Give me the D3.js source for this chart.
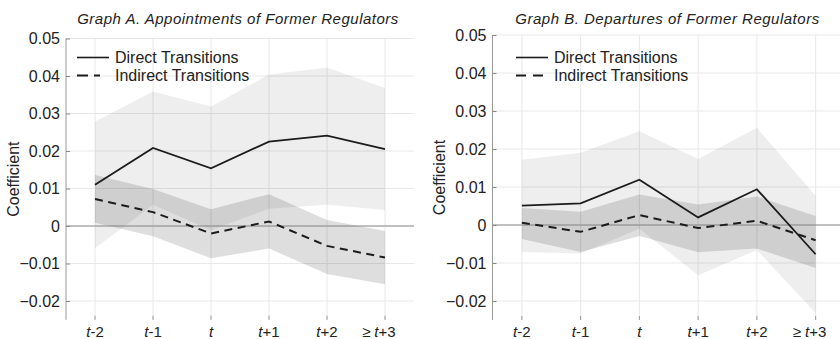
<!DOCTYPE html>
<html>
<head>
<meta charset="utf-8">
<script src="https://cdn.jsdelivr.net/npm/d3@7/dist/d3.min.js"></script>
<style>
  body { margin: 0; background: #fff; }
  svg { display: block; font-family: "Liberation Sans", Arial, Helvetica, sans-serif; }
</style>
</head>
<body>
<div id="chart"></div>
<script>
// event-time periods (x axis)
const periods = ['t-2', 't-1', 't', 't+1', 't+2', '≥ t+3'];
const yTicks = [-0.02, -0.01, 0, 0.01, 0.02, 0.03, 0.04, 0.05];
const seriesNames = ['Direct Transitions', 'Indirect Transitions'];
const yLabel = 'Coefficient';

// Graph A
const titleA = 'Graph A. Appointments of Former Regulators';
const aDirect     = [0.0110, 0.0208, 0.0154, 0.0225, 0.0241, 0.0205];
const aDirectLo   = [-0.0059, 0.0057, -0.0011, 0.0046, 0.0057, 0.0043];
const aDirectHi   = [0.0279, 0.0359, 0.0319, 0.0404, 0.0423, 0.0368];
const aIndirect   = [0.0072, 0.0037, -0.0020, 0.0012, -0.0053, -0.0084];
const aIndirectLo = [0.0009, -0.0027, -0.0086, -0.0060, -0.0128, -0.0155];
const aIndirectHi = [0.0136, 0.0099, 0.0045, 0.0085, 0.0016, -0.0013];

// Graph B
const titleB = 'Graph B. Departures of Former Regulators';
const bDirect     = [0.0051, 0.0057, 0.0119, 0.0020, 0.0094, -0.0077];
const bDirectLo   = [-0.0071, -0.0075, -0.0010, -0.0132, -0.0066, -0.0232];
const bDirectHi   = [0.0172, 0.0190, 0.0247, 0.0174, 0.0256, 0.0077];
const bIndirect   = [0.0006, -0.0018, 0.0026, -0.0008, 0.0011, -0.0040];
const bIndirectLo = [-0.0037, -0.0071, -0.0029, -0.0072, -0.0062, -0.0113];
const bIndirectHi = [0.0045, 0.0035, 0.0080, 0.0054, 0.0075, 0.0024];

const width = 840, height = 339;
const svg = d3.select('#chart').append('svg')
  .attr('width', width)
  .attr('height', height);

// layout of the two panels
const panels = [
  { title: titleA, direct: aDirect, directLo: aDirectLo, directHi: aDirectHi,
    indirect: aIndirect, indirectLo: aIndirectLo, indirectHi: aIndirectHi,
    left: 66, right: 414, top: 38.5, bottom: 319.75, titleX: 238, legendX: 77, dashLen: 23 },
  { title: titleB, direct: bDirect, directLo: bDirectLo, directHi: bDirectHi,
    indirect: bIndirect, indirectLo: bIndirectLo, indirectHi: bIndirectHi,
    left: 492.5, right: 845, top: 35, bottom: 320, titleX: 667.5, legendX: 516, dashLen: 28 }
];

panels.forEach(p => drawPanel(p));

function drawPanel(p) {
  const x = d3.scalePoint().domain(periods).range([p.left, p.right]).padding(0.5);
  const y = d3.scaleLinear().domain([-0.025, 0.05]).range([p.bottom, p.top]);
  const g = svg.append('g');

  // grid
  g.append('g').selectAll('line').data(yTicks).join('line')
    .attr('x1', p.left).attr('x2', Math.min(p.right, width))
    .attr('y1', d => y(d)).attr('y2', d => y(d))
    .attr('stroke', '#e8e8e8').attr('stroke-width', 1);
  g.append('g').selectAll('line').data(periods).join('line')
    .attr('x1', d => x(d)).attr('x2', d => x(d))
    .attr('y1', p.top).attr('y2', p.bottom)
    .attr('stroke', '#e8e8e8').attr('stroke-width', 1);

  // confidence bands
  const band = (lo, hi) => d3.area()
    .x((d, i) => x(periods[i]))
    .y0((d, i) => y(lo[i]))
    .y1((d, i) => y(hi[i]))(periods);
  g.append('path').attr('d', band(p.directLo, p.directHi))
    .attr('fill', '#000').attr('fill-opacity', 0.066);
  g.append('path').attr('d', band(p.indirectLo, p.indirectHi))
    .attr('fill', '#000').attr('fill-opacity', 0.13);

  // zero line
  g.append('line')
    .attr('x1', p.left).attr('x2', Math.min(p.right, width))
    .attr('y1', y(0)).attr('y2', y(0))
    .attr('stroke', '#8c8c8c').attr('stroke-width', 1.2);

  // y axis, ticks pointing inward
  const yAxis = d3.axisLeft(y).tickValues(yTicks).tickSize(-4).tickPadding(6)
    .tickFormat(d => d === 0 ? '0' : d3.format('.2f')(d));
  const ya = g.append('g').attr('transform', `translate(${p.left},0)`).call(yAxis);
  ya.select('.domain').attr('stroke', '#999').attr('d', `M0,${p.top}V${p.bottom}`);
  ya.selectAll('.tick line').attr('stroke', '#888');
  ya.selectAll('.tick text').attr('font-size', 16).attr('fill', '#222')
    .attr('font-family', '"Liberation Sans", Arial, sans-serif');

  // x ticks (inward) and labels
  g.append('g').selectAll('line').data(periods).join('line')
    .attr('x1', d => x(d)).attr('x2', d => x(d))
    .attr('y1', p.bottom).attr('y2', p.bottom - 4)
    .attr('stroke', '#999');
  periods.forEach(lab => {
    const parts = lab.split(' ');
    const main = parts[parts.length - 1];
    const t = g.append('text')
      .attr('x', x(lab)).attr('y', 336.5)
      .attr('text-anchor', 'middle')
      .attr('font-size', 15).attr('fill', '#222');
    t.append('tspan').attr('font-style', 'italic').text(main[0]);
    t.append('tspan').text(main.slice(1));
    if (parts.length > 1) {
      const w = t.node().getComputedTextLength();
      g.append('text')
        .attr('x', x(lab) - w / 2 - 4).attr('y', 336.5)
        .attr('text-anchor', 'end')
        .attr('font-size', 15).attr('fill', '#222')
        .text(parts[0]);
    }
  });

  // y label
  g.append('text')
    .attr('transform', `translate(${p.left - 47.5},${(p.top + p.bottom) / 2}) rotate(-90)`)
    .attr('text-anchor', 'middle')
    .attr('font-size', 16).attr('fill', '#222')
    .text(yLabel);

  // lines
  const line = vals => d3.line()
    .x((d, i) => x(periods[i]))
    .y(d => y(d))(vals);
  g.append('path').attr('d', line(p.direct))
    .attr('fill', 'none').attr('stroke', '#1c1c1c').attr('stroke-width', 1.8);
  g.append('path').attr('d', line(p.indirect))
    .attr('fill', 'none').attr('stroke', '#1c1c1c').attr('stroke-width', 2)
    .attr('stroke-dasharray', '8,5.5');

  // title
  g.append('text')
    .attr('x', p.titleX).attr('y', 23.5)
    .attr('text-anchor', 'middle')
    .attr('font-size', 15).attr('font-style', 'italic')
    .attr('letter-spacing', 0.5).attr('fill', '#222')
    .text(p.title);

  // legend
  const rows = [57.5, 75.5];
  seriesNames.forEach((name, i) => {
    g.append('line')
      .attr('x1', p.legendX).attr('x2', p.legendX + (i === 0 ? 32 : p.dashLen))
      .attr('y1', rows[i]).attr('y2', rows[i])
      .attr('stroke', '#1c1c1c').attr('stroke-width', i === 0 ? 1.6 : 1.8)
      .attr('stroke-dasharray', i === 0 ? null : (p.dashLen > 25 ? '10,7' : '11,6'));
    g.append('text')
      .attr('x', p.legendX + 38).attr('y', rows[i]).attr('dy', '0.36em')
      .attr('font-size', 16).attr('fill', '#222')
      .text(name);
  });
}
</script>
</body>
</html>
